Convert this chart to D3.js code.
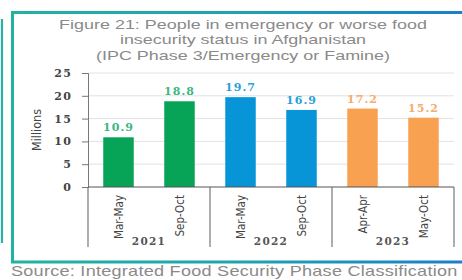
<!DOCTYPE html>
<html><head><meta charset="utf-8">
<script src="https://cdn.jsdelivr.net/npm/d3@7"></script>
<style>body{margin:0;background:#fff;}svg{display:block;}</style>
</head><body>
<script>
const categories = ["Mar-May","Sep-Oct","Mar-May","Sep-Oct","Apr-Apr","May-Oct"];
const years = ["2021","2021","2022","2022","2023","2023"];
const yearGroups = ["2021","2022","2023"];
const values = [10.9,18.8,19.7,16.9,17.2,15.2];
const yTicks = [0,5,10,15,20,25];
const titleLines = ["Figure 21: People in emergency or worse food","insecurity status in Afghanistan","(IPC Phase 3/Emergency or Famine)"];
const sourceText = "Source: Integrated Food Security Phase Classification";
const barColors = {"2021":"#07a458","2022":"#0795d8","2023":"#f8a251"};
const labelColors = {"2021":"#3bb87f","2022":"#2a9fd8","2023":"#f6ad6c"};

const W=462,H=280;
const svg=d3.select("body").append("svg").attr("width",W).attr("height",H);
const defs=svg.append("defs");
const g1=defs.append("linearGradient").attr("id","bord").attr("gradientUnits","userSpaceOnUse")
  .attr("x1",12).attr("x2",W).attr("y1",0).attr("y2",0);
g1.append("stop").attr("offset","0").attr("stop-color","#22b2a0");
g1.append("stop").attr("offset","0.5").attr("stop-color","#1fa3b0");
g1.append("stop").attr("offset","1").attr("stop-color","#1a7fc8");

// left thin line
svg.append("line").attr("x1",2).attr("x2",2).attr("y1",19).attr("y2",243).attr("stroke","#26b3a3").attr("stroke-width",2.2);
// box (open on right)
svg.append("path").attr("d",`M${W+5},12.5 H12.5 V262 H${W+5}`).attr("fill","none")
  .attr("stroke","url(#bord)").attr("stroke-width",3);

// title
svg.append("g").selectAll("text").data(titleLines).join("text")
  .attr("text-anchor","middle")
  .attr("transform",(d,i)=>`translate(243,${29+i*15.3}) scale(1.32,1)`)
  .attr("font-family","Liberation Sans, Arial, sans-serif").attr("font-size",13.6).attr("fill","#8a8a8a").text(d=>d);

const x=d3.scaleBand().domain(d3.range(categories.length)).range([88,454]).paddingInner(0.5).paddingOuter(0.25);
const y=d3.scaleLinear().domain([0,25]).range([187,73]);

// grid
svg.append("g").selectAll("line").data(yTicks.slice(1)).join("line")
  .attr("x1",88).attr("x2",454).attr("y1",d=>y(d)).attr("y2",d=>y(d)).attr("stroke","#e2e2e2").attr("stroke-width",1);

// y axis
const ya=svg.append("g").attr("transform","translate(88,0)").call(d3.axisLeft(y).tickValues(yTicks).tickSize(6).tickPadding(10));
ya.select(".domain").attr("stroke","#777");
ya.selectAll(".tick line").attr("stroke","#777").attr("x1",-6).attr("x2",0);
ya.selectAll("text").attr("font-family","DejaVu Serif, serif").attr("font-size",11).attr("font-weight","bold").attr("fill","#444").attr("letter-spacing",1.2);

svg.append("text").attr("transform","translate(41,130) rotate(-90)").attr("text-anchor","middle")
  .attr("font-family","Liberation Sans Narrow, DejaVu Sans Condensed, sans-serif").attr("font-size",12.5).attr("fill","#444").text("Millions");

// bars
svg.append("g").selectAll("rect").data(values).join("rect")
  .attr("x",(d,i)=>x(i)).attr("width",x.bandwidth()).attr("y",d=>y(d)).attr("height",d=>y(0)-y(d))
  .attr("fill",(d,i)=>barColors[years[i]]);
svg.append("g").selectAll("text").data(values).join("text")
  .attr("x",(d,i)=>x(i)+x.bandwidth()/2).attr("y",d=>y(d)-6).attr("text-anchor","middle")
  .attr("font-family","DejaVu Serif, serif").attr("font-size",11).attr("font-weight","bold").attr("letter-spacing",1)
  .attr("fill",(d,i)=>labelColors[years[i]]).text(d=>d.toFixed(1));

// x axis
svg.append("line").attr("x1",88).attr("x2",454).attr("y1",187).attr("y2",187).attr("stroke","#555").attr("stroke-width",1.2);
svg.append("g").selectAll("text").data(categories).join("text")
  .attr("transform",(d,i)=>`translate(${x(i)+x.bandwidth()/2+4},195) rotate(-90)`).attr("text-anchor","end")
  .attr("font-family","Liberation Sans Narrow, DejaVu Sans Condensed, sans-serif").attr("font-size",11.5).attr("fill","#444").text(d=>d);

// group separators
const gx=d3.scaleBand().domain(yearGroups).range([88,454]);
const seps=[...yearGroups.map(d=>gx(d)),454];
svg.append("g").selectAll("line").data(seps).join("line")
  .attr("x1",d=>d).attr("x2",d=>d).attr("y1",187).attr("y2",247).attr("stroke","#777").attr("stroke-width",1.2);
svg.append("g").selectAll("text").data(yearGroups).join("text")
  .attr("x",d=>gx(d)+gx.bandwidth()/2).attr("y",245).attr("text-anchor","middle")
  .attr("font-family","DejaVu Serif, serif").attr("font-size",10.5).attr("font-weight","bold").attr("letter-spacing",1.3).attr("fill","#555").text(d=>d);

// source
const src=svg.append("text").attr("font-family","Liberation Sans, Arial, sans-serif").attr("font-size",14).attr("fill","#8a8a8a")
  .attr("letter-spacing",0.2).text(sourceText);
const sl=src.node().getComputedTextLength();
src.attr("transform",`translate(11,276) scale(${447/sl},1)`);
</script>
</body></html>
